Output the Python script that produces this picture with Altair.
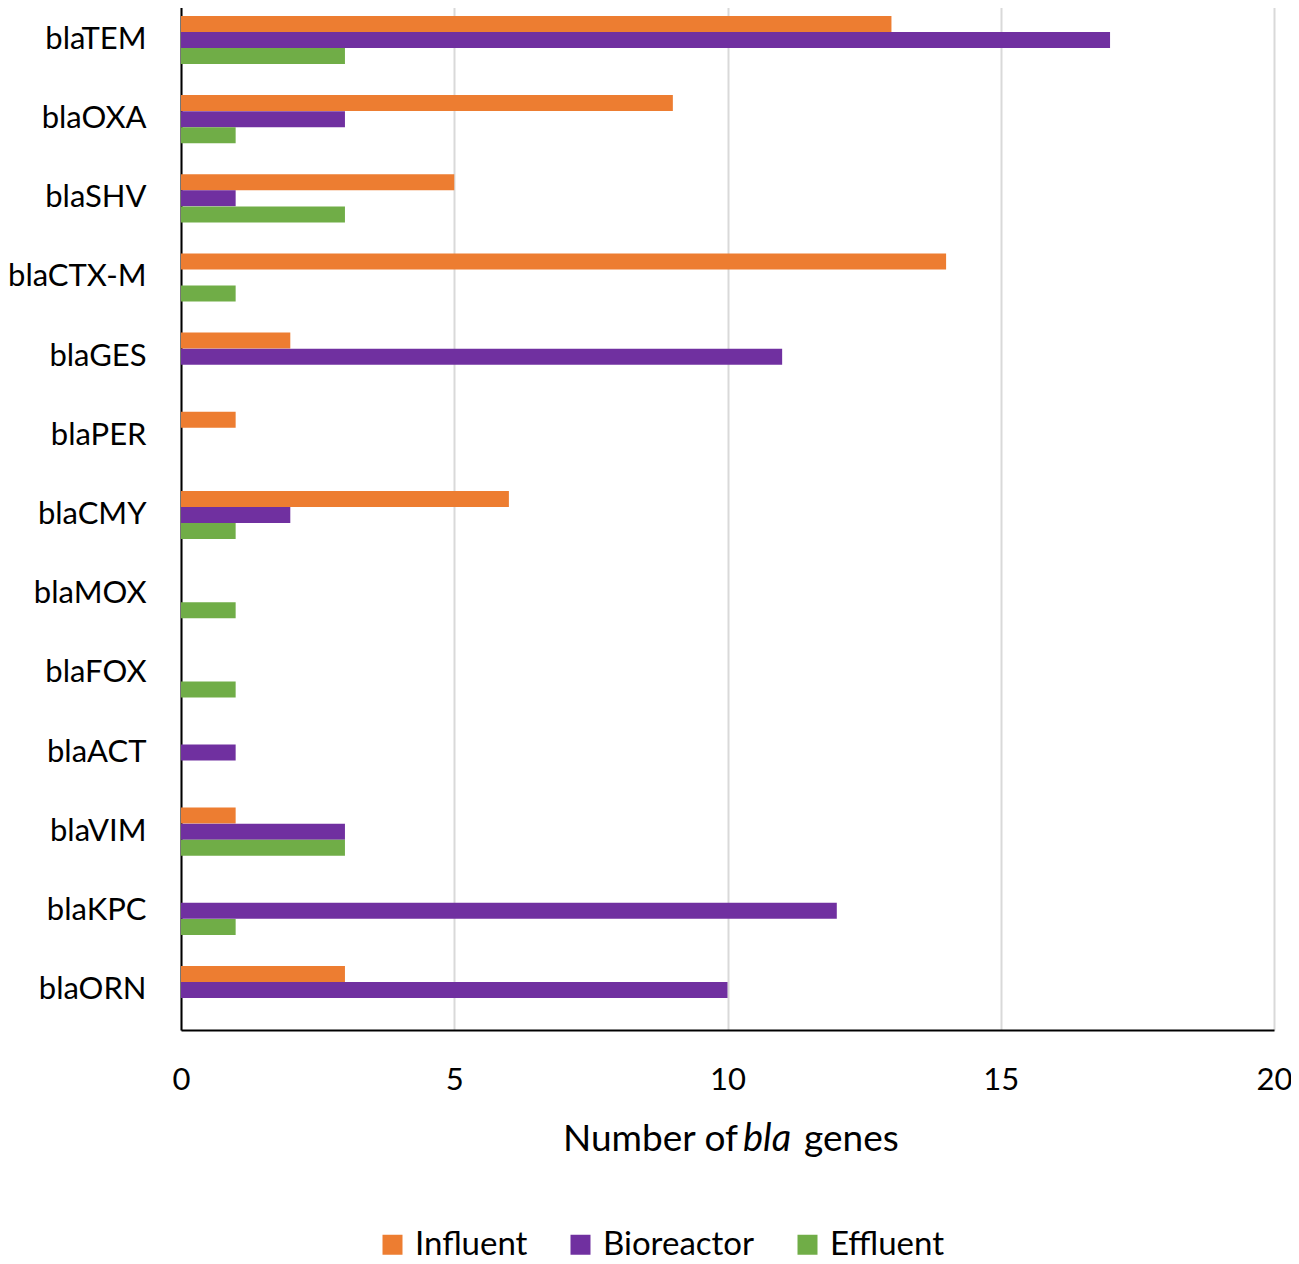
import altair as alt
import pandas as pd

genes = ["blaTEM", "blaOXA", "blaSHV", "blaCTX-M", "blaGES", "blaPER", "blaCMY",
         "blaMOX", "blaFOX", "blaACT", "blaVIM", "blaKPC", "blaORN"]
series = ["Influent", "Bioreactor", "Effluent"]
influent = [13, 9, 5, 14, 2, 1, 6, 0, 0, 0, 1, 0, 3]
bioreactor = [17, 3, 1, 0, 11, 0, 2, 0, 0, 1, 3, 12, 10]
effluent = [3, 1, 3, 1, 0, 0, 1, 1, 1, 0, 3, 1, 0]
colors = ["#ED7D31", "#7030A0", "#70AD47"]
x_ticks = [0, 5, 10, 15, 20]

rows = []
for i, g in enumerate(genes):
    for s, vals in zip(series, [influent, bioreactor, effluent]):
        rows.append({"gene": g, "series": s, "value": vals[i]})
df = pd.DataFrame(rows)

FONT = "Lato"
W, H = 1093, 1030

bars = alt.Chart(df).mark_bar(size=16).encode(
    y=alt.Y("gene:N", sort=genes,
            scale=alt.Scale(paddingInner=0.39, paddingOuter=0.2),
            axis=alt.Axis(title=None, ticks=False, domainColor="black", domainWidth=2,
                          labelFontSize=31, labelPadding=35, labelColor="black",
                          labelFont=FONT, labelLimit=300)),
    yOffset=alt.YOffset("series:N", sort=series, scale=alt.Scale(paddingInner=0, paddingOuter=0)),
    x=alt.X("value:Q", scale=alt.Scale(domain=[0, 20], nice=False),
            axis=alt.Axis(title=None, values=x_ticks, ticks=False, domainColor="black",
                          domainWidth=2, labelFontSize=31, labelPadding=35, labelColor="black",
                          labelFont=FONT, labelFlush=False,
                          grid=True, gridColor="#d9d9d9", gridWidth=2)),
    color=alt.Color("series:N", sort=series,
                    scale=alt.Scale(domain=series, range=colors),
                    legend=alt.Legend(title=None, orient="none", direction="horizontal",
                                      legendX=195, legendY=1228, labelFontSize=33,
                                      labelFont=FONT, labelColor="black",
                                      symbolType="square", symbolSize=400,
                                      symbolStrokeWidth=0, columnPadding=36,
                                      labelOffset=6)),
)

title_df = pd.DataFrame([{"a": "Number of", "b": "bla", "c": "genes"}])
TY = H + 110
t1 = alt.Chart(title_df).mark_text(align="right", baseline="middle", fontSize=37, font=FONT,
                                   color="black").encode(
    text="a:N", x=alt.value(557), y=alt.value(TY))
t2 = alt.Chart(title_df).mark_text(align="left", baseline="middle", fontSize=38, font=FONT,
                                   fontStyle="italic", color="black").encode(
    text="b:N", x=alt.value(562), y=alt.value(TY))
t3 = alt.Chart(title_df).mark_text(align="left", baseline="middle", fontSize=37, font=FONT,
                                   color="black").encode(
    text="c:N", x=alt.value(623), y=alt.value(TY))

chart = alt.layer(bars, t1, t2, t3).properties(
    width=W, height=H,
    autosize=alt.AutoSizeParams(type="none"),
    padding={"left": 173, "top": -8, "right": 17, "bottom": 270},
).configure_view(stroke=None).configure(background="white")

chart.save("out.html", embed_options={"renderer": "svg", "actions": False})
